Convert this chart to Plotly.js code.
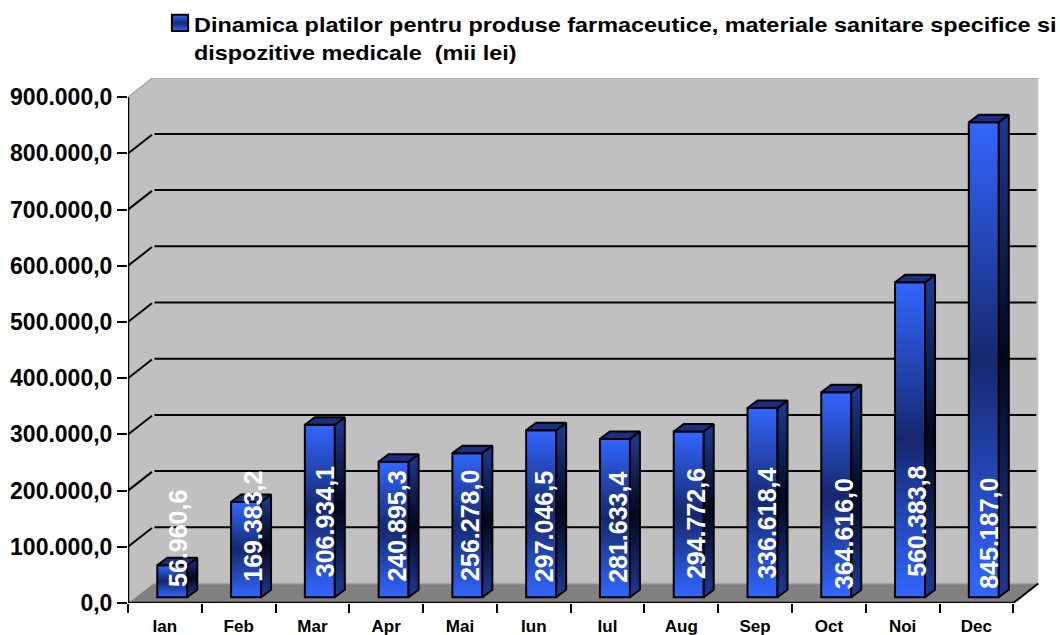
<!DOCTYPE html>
<html>
<head>
<meta charset="utf-8">
<script src="https://cdn.plot.ly/plotly-3.0.1.min.js"></script>
<style>html,body{margin:0;padding:0;background:#fff}#chart{width:1060px;height:635px}</style>
</head>
<body>
<div id="chart"></div>
<script>
// ---- data ----
const months = ['Ian','Feb','Mar','Apr','Mai','Iun','Iul','Aug','Sep','Oct','Noi','Dec'];
const values = [56960.6,169383.2,306934.1,240895.3,256278.0,297046.5,281633.4,294772.6,336618.4,364616.0,560383.8,845187.0];
const valueLabels = ['56.960,6','169.383,2','306.934,1','240.895,3','256.278,0','297.046,5','281.633,4','294.772,6','336.618,4','364.616,0','560.383,8','845.187,0'];
const axisValues = [0,100000,200000,300000,400000,500000,600000,700000,800000,900000];
const axisLabels = ['0,0','100.000,0','200.000,0','300.000,0','400.000,0','500.000,0','600.000,0','700.000,0','800.000,0','900.000,0'];
const seriesName = 'Dinamica platilor pentru produse farmaceutice, materiale sanitare specifice si<br>dispozitive medicale \u00a0(mii lei)';

// ---- layout constants ----
const W = 1060, H = 635;
const L = 127.7, T = 78, B = 603, R = 1039;
const pxPerCat = 73.8, pxPerUnit = 56.2 / 100000;
const xMax = (R - L) / pxPerCat, yMax = (B - T) / pxPerUnit;
const DX = 25 / pxPerCat, DY = 19.5 / pxPerUnit;       // wall depth
const dx = 10 / pxPerCat, dy = 7.5 / pxPerUnit;        // bar depth
const barShift = 7.4 / pxPerCat, barBase = 5.8 / pxPerUnit, barW = 30 / pxPerCat;
const labelShiftX = [5,7,5.4,3.3,2.8,3,3.2,7.4,5,8,7,5];
const labelShiftY = [14.8,19.8,24.5,20.8,20.8,19.5,18.8,22.5,23.2,12.5,24.8,13.5];

const centers = months.map((m,i) => i + 0.5 + barShift);

// ---- traces ----
const traces = [{
  type:'bar', x:centers, y:values, base:barBase, width:barW, name:seriesName,
  marker:{color:'#2A4FD0', line:{color:'#000', width:2}}, showlegend:true, hoverinfo:'skip'
}];
values.forEach((v,i) => {
  const x0 = centers[i] + barW/2, x1 = x0 + dx, y0 = barBase, y1 = barBase + v;
  traces.push({type:'scatter', mode:'lines', x:[x0,x1,x1,x0,x0], y:[y0,y0+dy,y1+dy,y1,y0],
    fill:'toself', fillcolor:'#1F3A94', line:{color:'#000',width:2}, showlegend:false, hoverinfo:'skip'});
});
values.forEach((v,i) => {
  const xa = centers[i] - barW/2, xb = centers[i] + barW/2, y1 = barBase + v;
  traces.push({type:'scatter', mode:'lines', x:[xa,xb,xb+dx,xa+dx,xa], y:[y1,y1,y1+dy,y1+dy,y1],
    fill:'toself', fillcolor:'#1B2F80', line:{color:'#000',width:2}, showlegend:false, hoverinfo:'skip'});
});

// ---- walls, grid ----
const poly = pts => 'M' + pts.map(p => p[0] + ',' + p[1]).join('L') + 'Z';
const shapes = [];
const add = (pts, fill, line) => shapes.push({type:'path', layer:'below', xref:'x', yref:'y',
  path:poly(pts), fillcolor:fill, line:line || {width:0}});
const seg = (x0,y0,x1,y1,color,width,layer) => shapes.push({type:'line', layer:layer||'below', xref:'x', yref:'y',
  x0,y0,x1,y1, line:{color,width}});
add([[DX,DY],[12+DX,DY],[12+DX,900000+DY],[DX,900000+DY]], '#C0C0C0');
add([[0,0],[DX,DY],[DX,900000+DY],[0,900000]], '#C0C0C0');
add([[0,0],[12,0],[12+DX,DY],[DX,DY]], '#808080');
seg(DX,900000+DY,12+DX,900000+DY,'#A6A6A6',2);
seg(0,900000,DX,900000+DY,'#A6A6A6',1.5);
seg(DX,DY,12+DX,DY,'#A6A6A6',1.5);
seg(0,0,DX,DY,'#B8B8B8',1);
axisValues.slice(1,-1).forEach(v => {
  seg(0,v,DX*0.96,v+DY*0.96,'#000',2);
  seg(DX*1.06,v+DY,12+DX*0.92,v+DY,'#000',2);
});
seg(0,0,0,900000,'#000',2.5,'above');
seg(0,0,12,0,'#000',2.5,'above');
seg(12,0,12+DX,DY,'#000',2,'above');

// ---- labels ----
const annotations = valueLabels.map((t,i) => ({
  xref:'x', yref:'y', x:i+0.5+barShift, y:0, text:t, showarrow:false, textangle:-90,
  xanchor:'center', yanchor:'bottom', xshift:labelShiftX[i], yshift:labelShiftY[i], borderpad:0,
  font:{family:'"Liberation Sans",Arial,sans-serif', size:25, color:'#fff', weight:'bold'}
}));

const layout = {
  width:W, height:H, autosize:false,
  margin:{l:L, r:W-R, t:T, b:H-B, pad:0, autoexpand:false},
  paper_bgcolor:'#fff', plot_bgcolor:'#fff',
  font:{family:'"Liberation Sans",Arial,sans-serif', color:'#000', weight:'bold'},
  barmode:'overlay',
  xaxis:{range:[0,xMax], autorange:false, automargin:false, showgrid:false, zeroline:false, showline:false,
    tickmode:'array', tickvals:months.map((m,i)=>i+0.5), ticktext:months,
    ticks:'outside', ticklen:8, tickwidth:0, tickcolor:'rgba(0,0,0,0)',
    tickfont:{size:17, weight:'bold'},
    minor:{tickmode:'array', tickvals:months.map((m,i)=>i).concat([12]), ticks:'outside', ticklen:9, tickwidth:2, tickcolor:'#000', showgrid:false}},
  yaxis:{range:[0,yMax], autorange:false, automargin:false, showgrid:false, zeroline:false, showline:false,
    tickmode:'array', tickvals:axisValues, ticktext:axisLabels,
    ticks:'outside', ticklen:10, tickwidth:2, tickcolor:'#000',
    tickfont:{size:23, weight:'bold'}},
  showlegend:true,
  legend:{xref:'container', yref:'container', x:153/W, y:1-4/H, xanchor:'left', yanchor:'top',
    bgcolor:'rgba(0,0,0,0)', borderwidth:0, font:{size:21, weight:'bold'}, itemclick:false, itemdoubleclick:false},
  shapes, annotations
};

Plotly.newPlot('chart', traces, layout, {displayModeBar:false, staticPlot:true}).then(gd => {
  const svg = gd.querySelector('svg.main-svg');
  const ns = 'http://www.w3.org/2000/svg';
  let defs = svg.querySelector('defs');
  const grad = (id, edge, mid) => {
    const g = document.createElementNS(ns,'linearGradient');
    g.setAttribute('id',id); g.setAttribute('x1','0'); g.setAttribute('y1','0'); g.setAttribute('x2','0'); g.setAttribute('y2','1');
    [[0,edge],[0.5,mid],[1,edge]].forEach(([o,c]) => {
      const s = document.createElementNS(ns,'stop');
      s.setAttribute('offset',o); s.setAttribute('stop-color',c); g.appendChild(s);
    });
    defs.appendChild(g);
  };
  grad('frontFace','#3366FF','#16286E');
  grad('sideFace','#1F3A94','#00081F');
  gd.querySelectorAll('.barlayer .point path').forEach(p => p.style.setProperty('fill','url(#frontFace)'));
  const fills = gd.querySelectorAll('.scatterlayer .trace');
  fills.forEach((t,i) => {
    if (i < values.length) {
      const f = t.querySelector('.js-fill');
      if (f) f.style.setProperty('fill','url(#sideFace)');
    }
  });
  gd.querySelectorAll('.legend .legendpoints path').forEach(p => {
    p.setAttribute('transform','translate(27,-15) scale(1.35)');
    p.style.setProperty('fill','url(#frontFace)');
    p.style.setProperty('stroke','#000');
    p.style.setProperty('stroke-width','1.5px');
  });
  gd.querySelectorAll('.legend .scrollbox').forEach(s => s.removeAttribute('clip-path'));
  gd.querySelectorAll('.legend').forEach(s => s.style.overflow = 'visible');
  gd.querySelectorAll('.legend .legendtext').forEach(t => {
    t.setAttribute('transform','translate(41,0) scale(1.115,1) translate(-40,0)');
  });
});
</script>
</body>
</html>
